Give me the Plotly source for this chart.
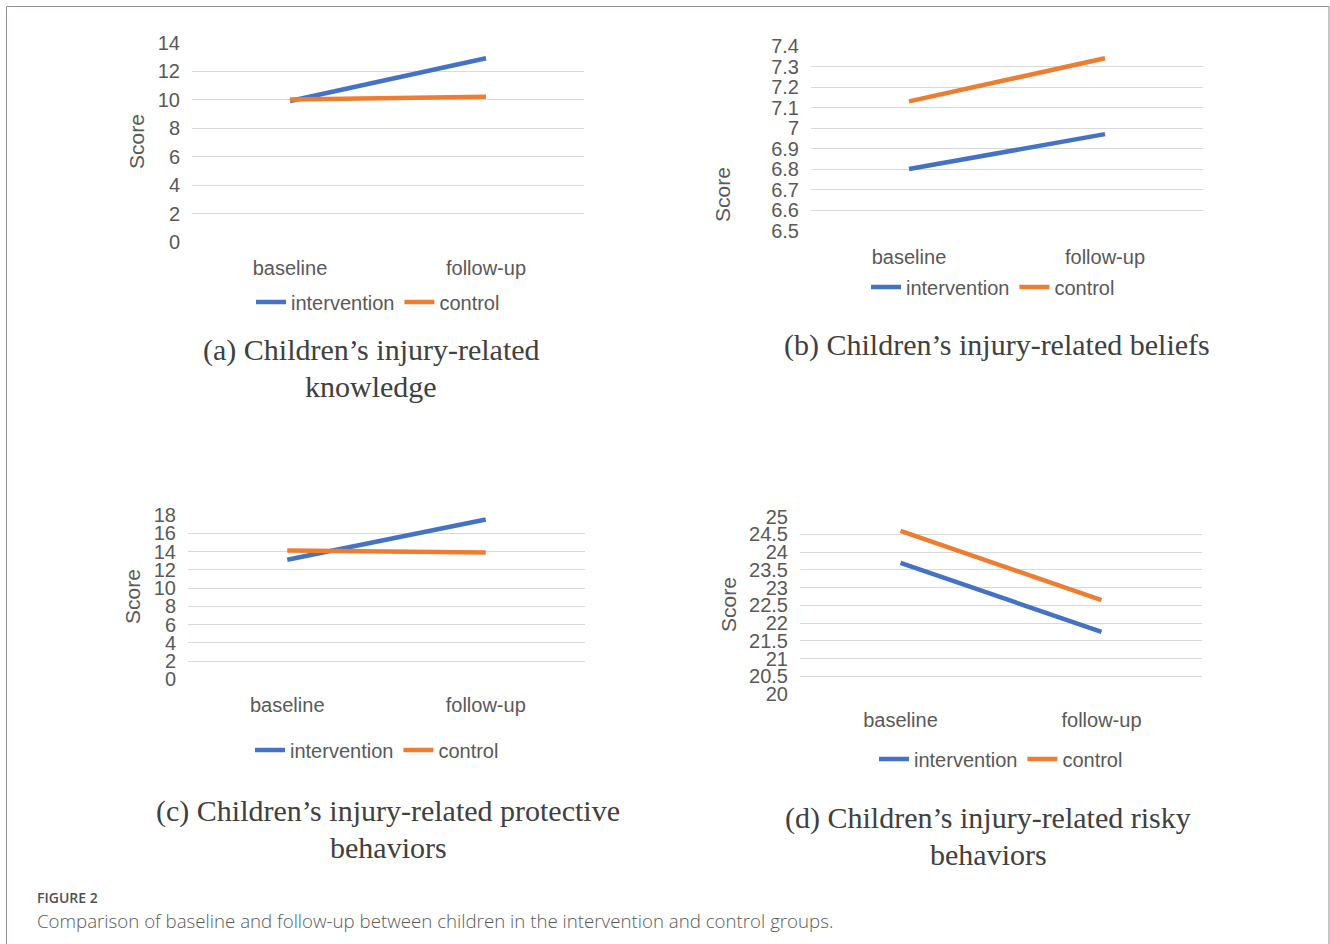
import plotly.graph_objects as go

W, H = 1330, 944

categories = ["baseline", "follow-up"]
series_names = ["intervention", "control"]

# (a) knowledge
a_intervention = [9.9, 12.9]
a_control = [10.0, 10.2]
a_ticks = [0, 2, 4, 6, 8, 10, 12, 14]
# (b) beliefs
b_intervention = [6.80, 6.97]
b_control = [7.13, 7.34]
b_ticks = [6.5, 6.6, 6.7, 6.8, 6.9, 7.0, 7.1, 7.2, 7.3, 7.4]
# (c) protective behaviors
c_intervention = [13.1, 17.5]
c_control = [14.1, 13.9]
c_ticks = [0, 2, 4, 6, 8, 10, 12, 14, 16, 18]
# (d) risky behaviors
d_intervention = [23.7, 21.75]
d_control = [24.6, 22.65]
d_ticks = [20, 20.5, 21, 21.5, 22, 22.5, 23, 23.5, 24, 24.5, 25]

captions = {
    "a": ["(a) Children\u2019s injury-related", "knowledge"],
    "b": ["(b) Children\u2019s injury-related beliefs"],
    "c": ["(c) Children\u2019s injury-related protective", "behaviors"],
    "d": ["(d) Children\u2019s injury-related risky", "behaviors"],
}
fig_label = "FIGURE 2"
fig_caption = "Comparison of baseline and follow-up between children in the intervention and control groups."

BLUE = "#4472C4"
ORANGE = "#ED7D31"
GRID = "#D9D9D9"
TXT = "#595959"
SANS = "Liberation Sans, Arial, sans-serif"
SERIF = "Liberation Serif, Times New Roman, serif"


def px(x):
    return x / W


def py(y):
    return 1 - y / H


# panel layout in pixels: (x0, x1, ytop, ybottom)
panels = [
    ("a", a_intervention, a_control, a_ticks, (192, 584, 42.5, 242.3), (137, 142), (378, 302), [(371, 350), (371, 386)]),
    ("b", b_intervention, b_control, b_ticks, (811, 1203, 46, 230.5), (722, 195), (993, 287), [(997, 345)]),
    ("c", c_intervention, c_control, c_ticks, (188, 585, 515, 679.3), (132, 597), (377, 750), [(388, 811), (388, 847)]),
    ("d", d_intervention, d_control, d_ticks, (800, 1202, 516.7, 694), (728, 605), (1001, 759), [(988, 818), (988, 854)]),
]

fig = go.Figure()
annotations = []
layout_upd = {}

for i, (key, yi, yc, ticks, (x0, x1, yt, yb), score_pos, leg_pos, cap_pos) in enumerate(panels):
    n = "" if i == 0 else str(i + 1)
    legname = "legend" + n
    for name, vals, col in [(series_names[0], yi, BLUE), (series_names[1], yc, ORANGE)]:
        fig.add_trace(go.Scatter(
            x=categories, y=vals, mode="lines", name=name,
            line=dict(color=col, width=4.5),
            xaxis="x" + n, yaxis="y" + n, legend=legname,
            hoverinfo="skip",
        ))
    layout_upd["xaxis" + n] = dict(
        domain=[px(x0), px(x1)], anchor="y" + n,
        type="category", range=[-0.5, 1.5],
        showgrid=False, showline=False, zeroline=False,
        ticks="outside", ticklen=8, tickcolor="rgba(0,0,0,0)",
        tickfont=dict(family=SANS, size=20, color=TXT),
    )
    layout_upd["yaxis" + n] = dict(
        domain=[py(yb), py(yt)], anchor="x" + n,
        range=[ticks[0], ticks[-1]],
        tickmode="array", tickvals=ticks,
        showgrid=True, gridcolor=GRID, gridwidth=1,
        showline=False, zeroline=False,
        ticks="outside", ticklen=7, tickcolor="rgba(0,0,0,0)",
        tickfont=dict(family=SANS, size=20, color=TXT),
    )
    layout_upd[legname] = dict(
        orientation="h", x=px(leg_pos[0]), y=py(leg_pos[1]),
        xanchor="center", yanchor="middle",
        font=dict(family=SANS, size=20, color=TXT),
        bgcolor="rgba(0,0,0,0)", itemclick=False, itemdoubleclick=False,
    )
    annotations.append(dict(
        text="Score", x=px(score_pos[0]), y=py(score_pos[1]), xref="paper", yref="paper",
        textangle=-90, showarrow=False, xanchor="center", yanchor="middle",
        font=dict(family=SANS, size=21, color=TXT),
    ))
    for line_text, (cx, cy) in zip(captions[key], cap_pos):
        annotations.append(dict(
            text=line_text, x=px(cx), y=py(cy), xref="paper", yref="paper",
            showarrow=False, xanchor="center", yanchor="middle",
            font=dict(family=SERIF, size=30, color="#404040"),
        ))

annotations.append(dict(
    text=fig_label, x=px(35), y=py(897), xref="paper", yref="paper",
    showarrow=False, xanchor="left", yanchor="middle",
    font=dict(family="Open Sans, sans-serif", size=14, color="#505050", weight=600),
))
annotations.append(dict(
    text=fig_caption, x=px(35), y=py(920), xref="paper", yref="paper",
    showarrow=False, xanchor="left", yanchor="middle",
    font=dict(family="Open Sans, sans-serif", size=18.7, color="#5a5a5a", weight=300),
))

fig.update_layout(
    width=W, height=H, autosize=False,
    margin=dict(l=0, r=0, t=0, b=0, pad=0, autoexpand=False),
    paper_bgcolor="white", plot_bgcolor="white",
    showlegend=True,
    annotations=annotations,
    shapes=[dict(type="rect", xref="paper", yref="paper",
                 x0=px(6.5), x1=px(1329), y0=py(960), y1=py(6.5),
                 line=dict(color="#8C8F9C", width=1), fillcolor="rgba(0,0,0,0)")],
    **layout_upd,
)

post = (
    "document.body.style.margin='0';"
    "var gd=document.getElementById('{plot_id}');"
    "gd.style.position='absolute';gd.style.left='0px';gd.style.top='0px';"
)

fig.write_html("out.html", config={"displayModeBar": False}, post_script=post)
